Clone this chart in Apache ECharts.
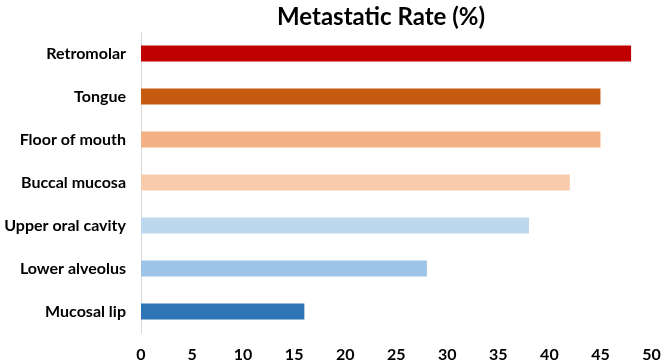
<!DOCTYPE html>
<html>
<head>
<meta charset="utf-8">
<script src="https://cdn.jsdelivr.net/npm/echarts@6/dist/echarts.min.js"></script>
<style>html,body{margin:0;padding:0;background:#fff}#c{width:667px;height:363px}</style>
</head>
<body>
<div id="c"></div>
<script>
const categories = ["Retromolar","Tongue","Floor of mouth","Buccal mucosa","Upper oral cavity","Lower alveolus","Mucosal lip"];
const values = [48,45,45,42,38,28,16];
const barColors = ["#C00000","#C55A11","#F4B183","#F8CBAD","#BDD7EE","#9DC3E6","#2E75B6"];
const xTicks = [0,5,10,15,20,25,30,35,40,45,50];

const chart = echarts.init(document.getElementById('c'));
const font = 'Lato, "Open Sans", sans-serif';
chart.setOption({
  animation: false,
  title: {text: 'Metastatic Rate (%)', left: 376, textAlign: 'center', top: 0,
    textStyle: {fontFamily: font, fontWeight: 'bold', fontSize: 24, color: '#000'}},
  grid: {left: 141, right: 15.5, top: 32, bottom: 30},
  xAxis: {type: 'value', min: xTicks[0], max: xTicks[xTicks.length-1], interval: 5,
    axisLine: {show: false}, axisTick: {show: false}, splitLine: {show: false},
    axisLabel: {fontFamily: font, fontWeight: 'bold', fontSize: 16, color: '#000', margin: 14}},
  yAxis: {type: 'category', inverse: true, data: categories,
    axisLine: {show: true, lineStyle: {color: '#d9d9d9', width: 1}}, axisTick: {show: false},
    axisLabel: {fontFamily: font, fontWeight: 'bold', fontSize: 16, color: '#000', margin: 15}},
  series: [{type: 'bar', barWidth: 16,
    data: values.map((v,i) => ({value: v, itemStyle: {color: barColors[i]}}))}]
});
</script>
</body>
</html>
